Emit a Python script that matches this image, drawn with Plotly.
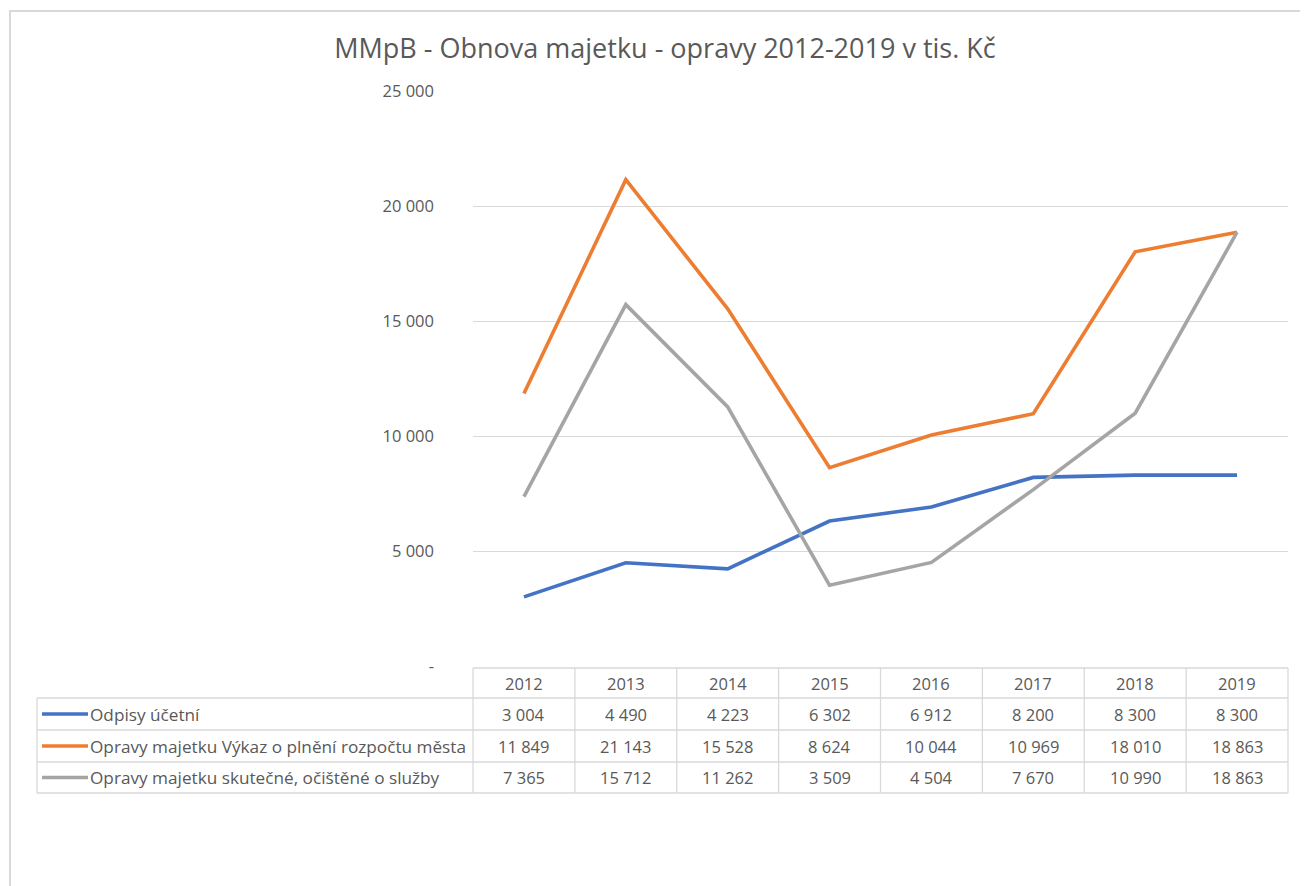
import plotly.graph_objects as go

years = [2012, 2013, 2014, 2015, 2016, 2017, 2018, 2019]
series_names = [
    "Odpisy účetní",
    "Opravy majetku Výkaz o plnění rozpočtu města",
    "Opravy majetku skutečné, očištěné o služby",
]
odpisy = [3004, 4490, 4223, 6302, 6912, 8200, 8300, 8300]
opravy_vykaz = [11849, 21143, 15528, 8624, 10044, 10969, 18010, 18863]
opravy_skutecne = [7365, 15712, 11262, 3509, 4504, 7670, 10990, 18863]
y_ticks = [0, 5000, 10000, 15000, 20000, 25000]

series_values = [odpisy, opravy_vykaz, opravy_skutecne]
colors = ["#4472C4", "#ED7D31", "#A5A5A5"]
FONT = "'Open Sans', Lato, sans-serif"
TXT = "#595959"
GRID = "#D9D9D9"


def fmt(v):
    return "-" if v == 0 else f"{v:,}".replace(",", " ")


O = 8  # page body margin offset
W, H = 1308 - O, 886 - O
L, R, T, B = 473 - O, 1288 - O, 91 - O, 666 - O  # plot area in figure pixels
pw, ph = R - L, B - T


def px(x):  # page x -> paper
    return (x - O - L) / pw


def py(y):  # page y -> paper
    return (B - (y - O)) / ph


fig = go.Figure()
xi = list(range(len(years)))
for name, vals, c in zip(series_names, series_values, colors):
    fig.add_trace(go.Scatter(x=xi, y=vals, mode="lines", name=name,
                             line=dict(color=c, width=3.6), showlegend=False))

shapes = []
ann = []
# outer chart border
shapes.append(dict(type="rect", xref="paper", yref="paper",
                   x0=px(10), x1=px(1330), y0=py(920), y1=py(11),
                   line=dict(color=GRID, width=2)))

# data table geometry
rows = [668, 698, 730, 762, 793]
n = len(years)
col_x = [(i) / n for i in range(n + 1)]
tline = dict(color=GRID, width=1.3)
shapes.append(dict(type="line", xref="paper", yref="paper", x0=col_x[0], x1=col_x[-1],
                   y0=py(rows[0]), y1=py(rows[0]), line=tline))
for r in rows[1:]:
    shapes.append(dict(type="line", xref="paper", yref="paper", x0=px(37), x1=col_x[-1],
                       y0=py(r), y1=py(r), line=tline))
for cx in col_x:
    shapes.append(dict(type="line", xref="paper", yref="paper", x0=cx, x1=cx,
                       y0=py(rows[0]), y1=py(rows[-1]), line=tline))
shapes.append(dict(type="line", xref="paper", yref="paper", x0=px(37), x1=px(37),
                   y0=py(rows[1]), y1=py(rows[-1]), line=tline))

for i, yv in enumerate(years):
    ann.append(dict(xref="paper", yref="paper", x=(col_x[i] + col_x[i + 1]) / 2,
                    y=py((rows[0] + rows[1]) / 2), text=str(yv), showarrow=False,
                    font=dict(family=FONT, size=16.5, color=TXT),
                    xanchor="center", yanchor="middle"))
for k, (name, vals, c) in enumerate(zip(series_names, series_values, colors)):
    yc = py((rows[k + 1] + rows[k + 2]) / 2)
    shapes.append(dict(type="line", xref="paper", yref="paper", x0=px(42), x1=px(88),
                       y0=yc, y1=yc, line=dict(color=c, width=3.6)))
    ann.append(dict(xref="paper", yref="paper", x=px(88), y=yc, text=name,
                    showarrow=False, font=dict(family=FONT, size=17.2, color=TXT),
                    xanchor="left", yanchor="middle"))
    for i, v in enumerate(vals):
        ann.append(dict(xref="paper", yref="paper", x=(col_x[i] + col_x[i + 1]) / 2,
                        y=yc, text=fmt(v), showarrow=False,
                        font=dict(family=FONT, size=16.5, color=TXT),
                        xanchor="center", yanchor="middle"))

fig.update_layout(
    width=W, height=H,
    margin=dict(l=L, r=W - R, t=T, b=H - B, pad=0),
    paper_bgcolor="white", plot_bgcolor="white",
    title=dict(text="MMpB - Obnova majetku - opravy 2012-2019 v tis. Kč",
               xref="container", yref="container",
               x=(665 - O) / W, xanchor="center", y=1 - (49 - O) / H, yanchor="middle",
               font=dict(family=FONT, size=27, color=TXT)),
    xaxis=dict(range=[-0.5, n - 0.5], showgrid=False, zeroline=False,
               showticklabels=False, showline=False, fixedrange=True),
    yaxis=dict(range=[0, 25000], tickvals=y_ticks, ticktext=[fmt(v) for v in y_ticks],
               showgrid=True, gridcolor=GRID, gridwidth=1.3, zeroline=False,
               showline=False, ticks="", ticklabelstandoff=38,
               tickfont=dict(family=FONT, size=16.5, color=TXT), fixedrange=True),
    shapes=shapes, annotations=ann,
)

fig.write_html("out.html")
